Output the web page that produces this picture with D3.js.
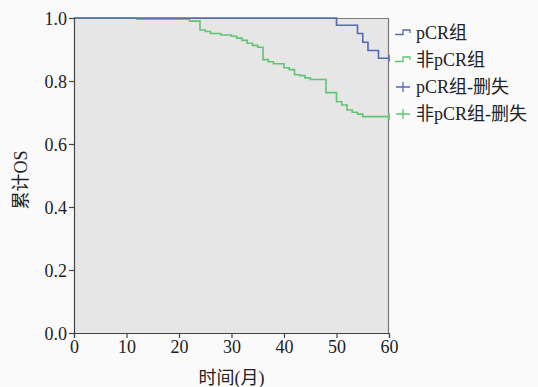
<!DOCTYPE html>
<html>
<head>
<meta charset="utf-8">
<script src="https://cdn.jsdelivr.net/npm/d3@7"></script>
<style>
  body { margin: 0; background: #fafafa; }
  svg { display: block; }
  .tick text { font-family: "Liberation Serif", "Noto Sans CJK SC", serif; font-size: 18px; fill: #222; }
</style>
</head>
<body>
<svg id="chart" width="538" height="387"></svg>
<script>
// Kaplan-Meier step data (months, cumulative survival)
const pcrTimes = [0, 50, 54, 55, 56, 58, 60];
const pcrSurv = [1.0, 0.977, 0.951, 0.923, 0.897, 0.872, 0.872];

const nonPcrTimes = [0, 12, 22, 24, 25, 26, 28, 30, 31, 32, 33, 34, 35, 36, 37, 38, 40, 41, 42, 43, 44, 45, 48, 50, 51, 52, 53, 54, 55, 60];
const nonPcrSurv = [1.0, 0.996, 0.990, 0.962, 0.957, 0.951, 0.946, 0.942, 0.936, 0.929, 0.920, 0.913, 0.907, 0.868, 0.861, 0.855, 0.842, 0.836, 0.820, 0.817, 0.810, 0.805, 0.763, 0.734, 0.724, 0.708, 0.701, 0.695, 0.687, 0.687];

// censored observations (only at end of follow-up)
const pcrCensor = [60];
const nonPcrCensor = [60];

const xTicks = [0, 10, 20, 30, 40, 50, 60];
const yTicks = [0, 0.2, 0.4, 0.6, 0.8, 1.0];
const legendLabels = ["pCR组", "非pCR组", "pCR组-删失", "非pCR组-删失"];

const BLUE = "#5468b4";
const GREEN = "#62c473";
const FONT = '"Liberation Serif", "Noto Sans CJK SC", serif';

const svg = d3.select("#chart");
const margin = { left: 74, top: 18, right: 149, bottom: 54 };
const W = 538 - margin.left - margin.right;
const H = 387 - margin.top - margin.bottom;

const x = d3.scaleLinear().domain([0, 60]).range([0, W]);
const y = d3.scaleLinear().domain([0, 1]).range([H, 0]);

const g = svg.append("g").attr("transform", `translate(${margin.left},${margin.top})`);

g.append("rect").attr("width", W).attr("height", H).attr("fill", "#e6e6e6");
// top + right frame
g.append("path")
  .attr("d", `M0,0.5 H${W - 0.5} V${H}`)
  .attr("fill", "none")
  .attr("stroke", "#7a7a7a")
  .attr("stroke-width", 1.2);

const line = d3.line()
  .x((d) => x(d[0]))
  .y((d) => y(d[1]))
  .curve(d3.curveStepAfter);

const series = [
  { times: nonPcrTimes, surv: nonPcrSurv, censor: nonPcrCensor, color: GREEN },
  { times: pcrTimes, surv: pcrSurv, censor: pcrCensor, color: BLUE },
];

series.forEach((s) => {
  const pts = s.times.map((t, i) => [t, s.surv[i]]);
  g.append("path")
    .attr("d", line(pts))
    .attr("fill", "none")
    .attr("stroke", s.color)
    .attr("stroke-width", 1.6);
  const last = s.surv[s.surv.length - 1];
  s.censor.forEach((t) => {
    g.append("line")
      .attr("x1", x(t)).attr("x2", x(t))
      .attr("y1", y(last) - 3.5).attr("y2", y(last) + 3.5)
      .attr("stroke", s.color)
      .attr("stroke-width", 1.6);
  });
});

const xAxis = g.append("g")
  .attr("transform", `translate(0,${H})`)
  .call(d3.axisBottom(x).tickValues(xTicks).tickSize(5).tickPadding(2));
const yAxis = g.append("g")
  .call(d3.axisLeft(y).tickValues(yTicks).tickFormat(d3.format(".1f")).tickSize(5).tickPadding(2));
[xAxis, yAxis].forEach((a) => {
  a.select(".domain").attr("stroke", "#444").attr("stroke-width", 1.2);
  a.selectAll(".tick line").attr("stroke", "#444").attr("stroke-width", 1.2);
});
yAxis.selectAll(".tick text").attr("dy", "0.36em");

svg.append("text")
  .attr("x", margin.left + W / 2)
  .attr("y", 384)
  .attr("text-anchor", "middle")
  .attr("font-family", FONT)
  .attr("font-size", 18)
  .attr("fill", "#222")
  .text("时间(月)");

svg.append("text")
  .attr("transform", "translate(27,180) rotate(-90)")
  .attr("text-anchor", "middle")
  .attr("font-family", FONT)
  .attr("font-size", 18)
  .attr("fill", "#222")
  .text("累计OS");

// legend
const legend = svg.append("g").attr("transform", "translate(395,33)");
const legendColors = [BLUE, GREEN, BLUE, GREEN];
legendLabels.forEach((label, i) => {
  const row = legend.append("g").attr("transform", `translate(0,${i * 27})`);
  if (i < 2) {
    row.append("path")
      .attr("d", "M0,1.5 H8 V-3 H15 V0")
      .attr("fill", "none")
      .attr("stroke", legendColors[i])
      .attr("stroke-width", 1.3);
  } else {
    row.append("path")
      .attr("d", "M1,0 H15 M8,-5 V5")
      .attr("fill", "none")
      .attr("stroke", legendColors[i])
      .attr("stroke-width", 1.3);
  }
  row.append("text")
    .attr("x", 21)
    .attr("dy", "0.35em")
    .attr("font-family", FONT)
    .attr("font-size", 18)
    .attr("fill", "#222")
    .text(label);
});
</script>
</body>
</html>
